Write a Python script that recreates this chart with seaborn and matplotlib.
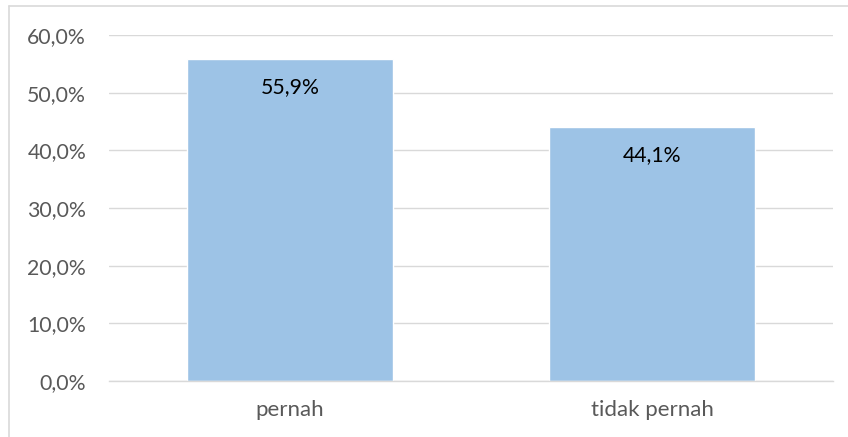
import matplotlib
matplotlib.use("Agg")
import matplotlib.pyplot as plt
import seaborn as sns
import pandas as pd
from matplotlib.lines import Line2D
from matplotlib.ticker import FuncFormatter

categories = ["pernah", "tidak pernah"]
values = [55.9, 44.1]
labels = ["55,9%", "44,1%"]

sns.set_theme(style="white")
plt.rcParams['font.family'] = ['Lato', 'DejaVu Sans']

W, H = 848, 437
fig = plt.figure(figsize=(W / 100, H / 100), dpi=100)
ax = fig.add_axes([109 / W, 1 - 381 / H, (833 - 109) / W, (381 - 35) / H])

df = pd.DataFrame({"cat": categories, "val": values})
sns.barplot(data=df, x="cat", y="val", color="#9DC3E6", saturation=1,
            width=0.57, ax=ax)

ax.set_ylim(0, 60)
ax.set_xlim(-0.5, 1.5)
ax.set_yticks([0, 10, 20, 30, 40, 50, 60])
ax.yaxis.set_major_formatter(FuncFormatter(lambda v, p: f"{v:.1f}%".replace(".", ",")))
ax.grid(axis="y", color="#D9D9D9", linewidth=1)
ax.set_axisbelow(True)
for s in ["top", "right", "left"]:
    ax.spines[s].set_visible(False)
ax.spines["bottom"].set_color("#D9D9D9")
ax.spines["bottom"].set_linewidth(1)
ax.set_xlabel("")
ax.set_ylabel("")
ax.tick_params(axis="both", length=0, labelcolor="#595959")
ax.tick_params(axis="y", pad=16.5, labelsize=15.3)
ax.tick_params(axis="x", pad=14, labelsize=16)

for i, (v, lab) in enumerate(zip(values, labels)):
    ax.text(i, v - 4.9, lab, ha="center", va="center", fontsize=15.3, color="black")

fig.add_artist(Line2D([9 / W, 9 / W], [0, 1 - 6 / H], transform=fig.transFigure,
                      color="#D9D9D9", linewidth=1.2))
fig.add_artist(Line2D([9 / W, 1], [1 - 6 / H, 1 - 6 / H], transform=fig.transFigure,
                      color="#D9D9D9", linewidth=1.2))

fig.savefig("out.png", dpi=100, facecolor="white")
